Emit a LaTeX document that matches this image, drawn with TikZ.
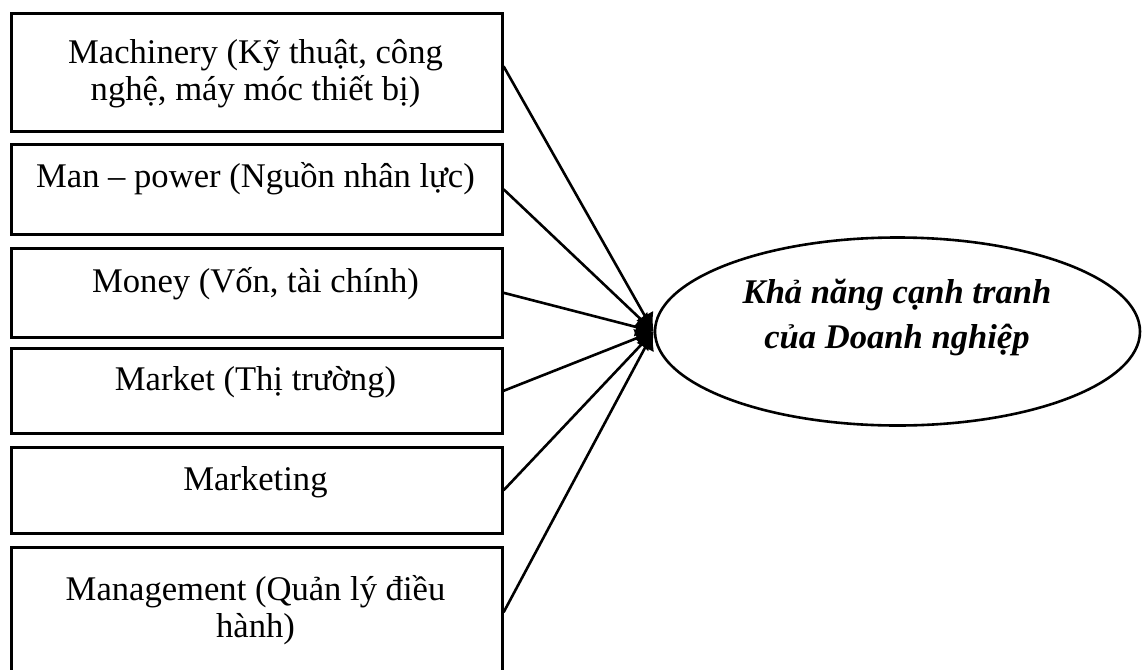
\documentclass[tikz,border=0pt]{standalone}
\usepackage{fontspec}
\setmainfont{Liberation Serif}
\usetikzlibrary{shapes.geometric,arrows.meta}

\begin{document}
\begin{tikzpicture}[x=0.5pt,y=-0.5pt,
	factor/.style={draw,rectangle,line width=1.3pt,anchor=north west,minimum width=245.5pt,inner sep=0pt},
	factortext/.style={anchor=base,align=center,inner sep=0pt,font=\fontsize{17.3}{18.5}\selectfont},
	link/.style={line width=1.3pt,-{Latex[length=9pt,width=10pt]}}]
	\useasboundingbox (0,0) rectangle (1142,670);

	% Draw the six factor boxes
	\node[factor,minimum height=59pt] (machinery) at (10,12) {};
	\node[factor,minimum height=45pt] (manpower) at (10,143) {};
	\node[factor,minimum height=44.5pt] (money) at (10,247) {};
	\node[factor,minimum height=42.5pt] (market) at (10,347) {};
	\node[factor,minimum height=43pt] (marketing) at (10,446) {};
	\node[factor,minimum height=65pt] (management) at (10,546) {};

	% Label the boxes (base is the last line)
	\node[factortext] (machinerytext) at (255.5,100) {Machinery (Kỹ thuật, công\\nghệ, máy móc thiết bị)};
	\node[factortext] (manpowertext) at (255.5,187) {Man – power (Nguồn nhân lực)};
	\node[factortext] (moneytext) at (255.5,292) {Money (Vốn, tài chính)};
	\node[factortext] (markettext) at (255.5,390) {Market (Thị trường)};
	\node[factortext] (marketingtext) at (255.5,490) {Marketing};
	\node[factortext] (managementtext) at (255.5,637) {Management (Quản lý điều\\hành)};

	% Draw the ellipse on the right
	\node[draw,ellipse,line width=1.3pt,minimum width=242.5pt,minimum height=94pt,inner sep=0pt] (goal) at (897.5,331.5) {};
	\node[factortext,font=\fontsize{17.3}{22.5}\selectfont\bfseries\itshape] (goaltext) at (897,348) {Khả năng cạnh tranh\\của Doanh nghiệp};

	% Connect each box to the ellipse
	\draw[link] ([yshift=3pt]machinery.east) -- (goal.west);
	\draw[link] (manpower.east) -- (goal.west);
	\draw[link] (money.east) -- (goal.west);
	\draw[link] (market.east) -- (goal.west);
	\draw[link] (marketing.east) -- (goal.west);
	\draw[link] (management.east) -- (goal.west);
\end{tikzpicture}
\end{document}
